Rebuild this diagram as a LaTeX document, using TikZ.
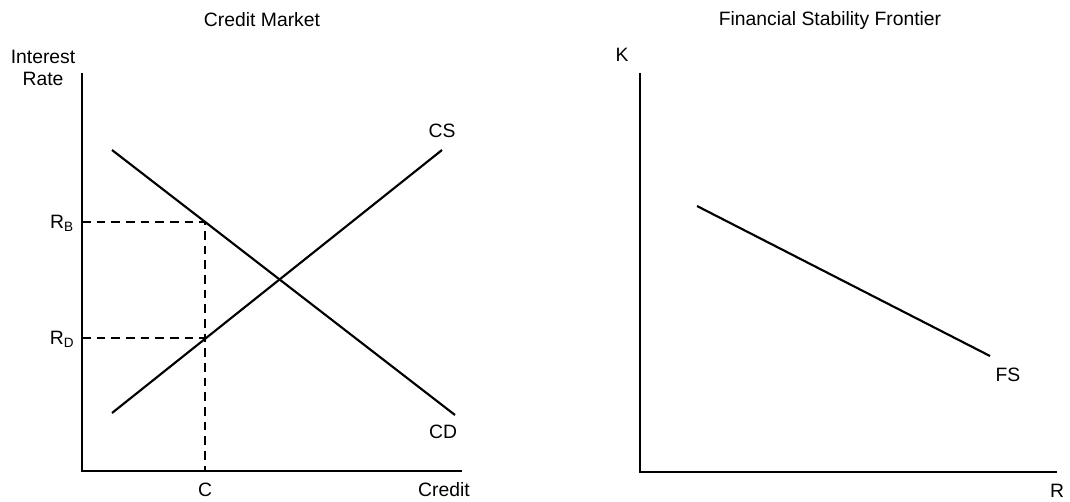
\documentclass[tikz,border=0pt]{standalone}
\usepackage{fontspec}
\setmainfont{Liberation Sans}
\begin{document}
\begin{tikzpicture}[x=0.75pt,y=-0.75pt,
  lbl/.style={inner sep=0pt, font=\fontsize{14.5}{16.5}\selectfont},
  axis/.style={line width=1.6pt},
  curve/.style={line width=1.6pt},
  guide/.style={line width=1.6pt, dash pattern=on 6.5pt off 4.5pt}]
\useasboundingbox (0,0) rectangle (1070,501);
% credit market
\node[lbl] (t1) at (262,20) {Credit Market};
\node[lbl, align=center] (ir) at (43,68) {Interest\\Rate};
\coordinate (o1) at (82,471);
\coordinate (y1) at (82,73);
\coordinate (x1) at (462,471);
\draw[axis] (y1) -- (o1) -- (x1);
\coordinate (cd1) at (112,150);
\coordinate (cd2) at (455,415);
\coordinate (cs1) at (112,413);
\coordinate (cs2) at (442,150);
\draw[curve] (cd1) -- (cd2);
\draw[curve] (cs1) -- (cs2);
\coordinate (rb) at (82,222);
\coordinate (rd) at (82,338);
\coordinate (pb) at (205,222);
\coordinate (pd) at (205,338);
\coordinate (c) at (205,471);
\draw[guide] (rb) -- (pb) -- (c);
\draw[guide] (rd) -- (pd);
\node[lbl] (lrb) at (62,223) {R\textsubscript{B}};
\node[lbl] (lrd) at (62,339) {R\textsubscript{D}};
\node[lbl] (lc) at (205,490) {C};
\node[lbl] (lcr) at (444,490) {Credit};
\node[lbl] (lcs) at (442,131) {CS};
\node[lbl] (lcd) at (443,432) {CD};
% financial stability frontier
\node[lbl] (t2) at (830,20) {Financial Stability Frontier};
\node[lbl] (lk) at (622,55) {K};
\coordinate (o2) at (640,472);
\coordinate (y2) at (640,73);
\coordinate (x2) at (1057,472);
\draw[axis] (y2) -- (o2) -- (x2);
\coordinate (fs1) at (697,206);
\coordinate (fs2) at (990,356);
\draw[curve] (fs1) -- (fs2);
\node[lbl] (lfs) at (1008,375) {FS};
\node[lbl] (lr) at (1057,491) {R};
\end{tikzpicture}
\end{document}
